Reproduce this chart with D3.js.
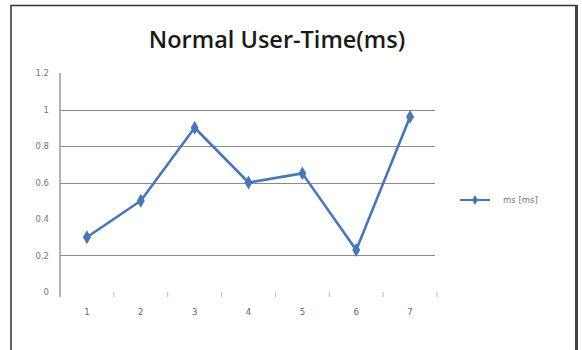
<!DOCTYPE html>
<html>
<head>
<meta charset="utf-8">
<script src="https://cdn.jsdelivr.net/npm/d3@7"></script>
<style>
  html, body { margin: 0; padding: 0; background: #fff; }
  svg { display: block; }
</style>
</head>
<body>
<svg id="chart" width="582" height="350"></svg>
<script>
// Run labels and measured user time (ms)
const categories = ["1", "2", "3", "4", "5", "6", "7"];
const userTime = [0.30, 0.50, 0.90, 0.60, 0.65, 0.23, 0.96];
const yTicks = [0, 0.2, 0.4, 0.6, 0.8, 1, 1.2];
const gridValues = [0.2, 0.6, 0.8, 1];
const seriesName = "ms [ms]";
const chartTitle = "Normal User-Time(ms)";

const svg = d3.select("#chart");
const W = 582, H = 350;
const plot = { left: 60, right: 437, top: 73, bottom: 292 };
const lineColor = "#4a76b8";

// Outer frame
svg.append("rect").attr("x", 11).attr("y", 5.5).attr("width", 565).attr("height", 360)
  .attr("fill", "#fff").attr("stroke", "#333").attr("stroke-width", 1.5);
svg.append("line").attr("x1", 576.5).attr("x2", 576.5).attr("y1", 5).attr("y2", H)
  .attr("stroke", "#444").attr("stroke-width", 3);

const x = d3.scaleBand().domain(categories).range([plot.left, plot.right]);
const y = d3.scaleLinear().domain([0, 1.2]).range([plot.bottom, plot.top]);

// Title
svg.append("text").attr("x", 277).attr("y", 48).attr("text-anchor", "middle")
  .attr("font-family", "'Open Sans', sans-serif").attr("font-weight", 600)
  .attr("font-size", 23.5).attr("fill", "#1a1a1a").text(chartTitle);

// Horizontal gridlines
svg.append("g").selectAll("line").data(gridValues).join("line")
  .attr("x1", plot.left).attr("x2", plot.right - 2)
  .attr("y1", d => Math.round(y(d)) + 0.5).attr("y2", d => Math.round(y(d)) + 0.5)
  .attr("stroke", "#8a8a8a").attr("stroke-width", 1.2);

// Y axis
const yAxis = d3.axisLeft(y).tickValues(yTicks).tickSize(0).tickPadding(11)
  .tickFormat(d3.format("~g"));
const gy = svg.append("g").attr("transform", `translate(${plot.left},0)`).call(yAxis);
gy.select(".domain").remove();
gy.append("line").attr("x1", 0).attr("x2", 0).attr("y1", plot.top).attr("y2", plot.bottom + 5)
  .attr("stroke", "#9a9a9a").attr("stroke-width", 1.5);
gy.selectAll("text").attr("font-family", "'DejaVu Sans', sans-serif")
  .attr("font-size", 8.5).attr("fill", "#777");

// X axis (labels under bands, faint tick marks at band edges)
const xAxis = d3.axisBottom(x).tickSize(0).tickPadding(17);
const gx = svg.append("g").attr("transform", `translate(0,${plot.bottom})`).call(xAxis);
gx.select(".domain").remove();
gx.selectAll("text").attr("font-family", "'DejaVu Sans', sans-serif")
  .attr("font-size", 8.5).attr("fill", "#666");
const edges = categories.slice(1).map(c => x(c)).concat([plot.right]);
gx.append("g").selectAll("line").data(edges).join("line")
  .attr("x1", d => d).attr("x2", d => d).attr("y1", 0).attr("y2", 5)
  .attr("stroke", "#bbb").attr("stroke-width", 1);

// Series line and markers
const cx = (d, i) => x(categories[i]) + x.bandwidth() / 2;
const line = d3.line().x(cx).y(d => y(d));
svg.append("path").datum(userTime).attr("d", line)
  .attr("fill", "none").attr("stroke", lineColor).attr("stroke-width", 2.6)
  .attr("stroke-linejoin", "round");
const diamond = d3.symbol().type(d3.symbolDiamond).size(55);
svg.append("g").selectAll("path").data(userTime).join("path")
  .attr("transform", (d, i) => `translate(${cx(d, i)},${y(d)})`)
  .attr("d", diamond).attr("fill", lineColor);

// Legend
const lg = svg.append("g").attr("transform", "translate(460,200)");
lg.append("line").attr("x1", 0).attr("x2", 30).attr("y1", 0).attr("y2", 0)
  .attr("stroke", lineColor).attr("stroke-width", 2);
lg.append("path").attr("transform", "translate(15,0)")
  .attr("d", d3.symbol().type(d3.symbolDiamond).size(30)).attr("fill", lineColor);
lg.append("text").attr("x", 43).attr("y", 3).attr("font-family", "'DejaVu Sans', sans-serif")
  .attr("font-size", 8.5).attr("fill", "#777").text(seriesName);
</script>
</body>
</html>
